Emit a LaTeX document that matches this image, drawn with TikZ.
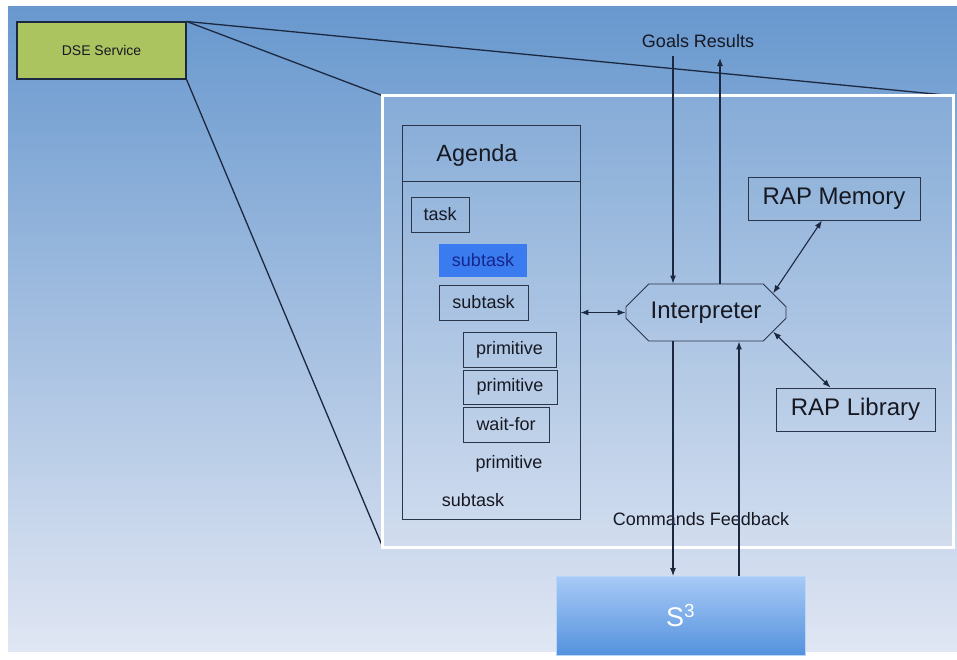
\documentclass[tikz,border=0pt]{standalone}
\usepackage{fontspec}
\setmainfont{Liberation Sans}
\usetikzlibrary{shapes.misc,arrows.meta}

\definecolor{bgtop}{RGB}{104,152,206}
\definecolor{bgmid}{RGB}{168,194,226}
\definecolor{bgbot}{RGB}{224,230,243}
\definecolor{dsegreen}{RGB}{172,196,96}
\definecolor{linecol}{RGB}{28,40,64}
\definecolor{textcol}{RGB}{22,24,34}
\definecolor{selblue}{RGB}{58,124,240}
\definecolor{seltext}{RGB}{22,38,140}
\definecolor{s3top}{RGB}{168,202,246}
\definecolor{s3bot}{RGB}{84,146,222}

\begin{document}
\begin{tikzpicture}[
    x=1pt, y=-1pt,
    every node/.append style={text=textcol},
    box/.style={draw=linecol!85!gray, line width=0.9pt, inner sep=0pt,
      font=\fontsize{18}{20}\selectfont},
    bigbox/.style={box, font=\fontsize{24}{28}\selectfont},
    lbl/.style={inner sep=0pt, font=\fontsize{18}{20}\selectfont},
    conn/.style={draw=linecol, line width=1.1pt},
    >={Latex[length=8pt,width=6pt]}
  ]
  \useasboundingbox (0,0) rectangle (957,659);
  % background
  \shade[top color=bgtop, middle color=bgmid, bottom color=bgbot]
    (8,6) rectangle (957,651);

  \node [box, draw=linecol, line width=1.1pt, fill=dsegreen, minimum width=169pt, minimum height=57pt,
    font=\fontsize{14}{16}\selectfont] (dse) at (101.5,50.5) {DSE Service};
  \node [minimum width=570pt, minimum height=451pt, inner sep=0pt] (zoom) at (668,321.5) {};

  \draw [conn, line width=1.3pt] (dse.north east) -- (zoom.north east);
  \draw [conn, line width=1.3pt] (dse.north east) -- (zoom.north west);
  \draw [conn, line width=1.3pt] (dse.south east) -- (zoom.south west);
  \draw [white, line width=3pt, fill=white, fill opacity=0.1]
    (zoom.north west) rectangle (zoom.south east);

  % agenda
  \node [box, minimum width=178pt, minimum height=394pt] (agenda) at (491,322) {};
  \draw [box] ([yshift=-57pt]agenda.north west) -- ([yshift=-57pt]agenda.north east);
  \node [inner sep=0pt, font=\fontsize{23.5}{26}\selectfont] (title) at (477,155) {Agenda};
  \node [box, minimum width=58pt, minimum height=35pt] (task) at (440,214.5) {task};
  \node [box, draw=none, fill=selblue, text=seltext, minimum width=88pt, minimum height=33pt] (sub1) at (483,260.5) {subtask};
  \node [box, minimum width=89pt, minimum height=35pt] (sub2) at (483.5,302.5) {subtask};
  \node [box, minimum width=93pt, minimum height=35pt] (prim1) at (509.5,349.5) {primitive};
  \node [box, minimum width=94pt, minimum height=34pt] (prim2) at (510,387) {primitive};
  \node [box, minimum width=86pt, minimum height=35pt] (wait) at (506,424.5) {wait-for};
  \node [lbl] (prim3) at (509,464) {primitive};
  \node [lbl] (sub3) at (473,500) {subtask};

  % interpreter and memories
  \node [bigbox, chamfered rectangle, chamfered rectangle xsep=12pt, chamfered rectangle ysep=12pt,
    minimum width=160pt, minimum height=57pt] (interp) at (706,312.5) {Interpreter};
  \node [bigbox, minimum width=172pt, minimum height=43pt] (mem) at (834,198.5) {RAP Memory};
  \node [bigbox, minimum width=159pt, minimum height=43pt] (lib) at (855.5,409.5) {RAP Library};

  \node [box, draw=s3top!80!white, line width=0.6pt, top color=s3top, bottom color=s3bot,
    minimum width=249pt, minimum height=79pt, text=white,
    font=\fontsize{27}{30}\selectfont] (s3) at (680.5,615.5) {S\textsuperscript{3}};

  \node [lbl] (goalslbl) at (698,41) {Goals Results};
  \node [lbl] (cmdlbl) at (701,519) {Commands Feedback};
  \coordinate (goals) at (673,56);
  \coordinate (results) at (720,58);
  \coordinate (cmd) at (673,576);
  \coordinate (fb) at (739,576);

  \draw [conn, <->] (agenda.east |- interp.west) -- (interp.west);
  \draw [conn, ->] (goals) -- (goals |- interp.north);
  \draw [conn, ->] (results |- interp.north) -- (results);
  \draw [conn, <->] (interp.16) -- ([xshift=-12pt]mem.south);
  \draw [conn, <->] (interp.-16) -- ([xshift=-25pt]lib.north);
  \draw [conn, ->] (cmd |- interp.south) -- (cmd);
  \draw [conn, ->] (fb) -- (fb |- interp.south);
\end{tikzpicture}
\end{document}
